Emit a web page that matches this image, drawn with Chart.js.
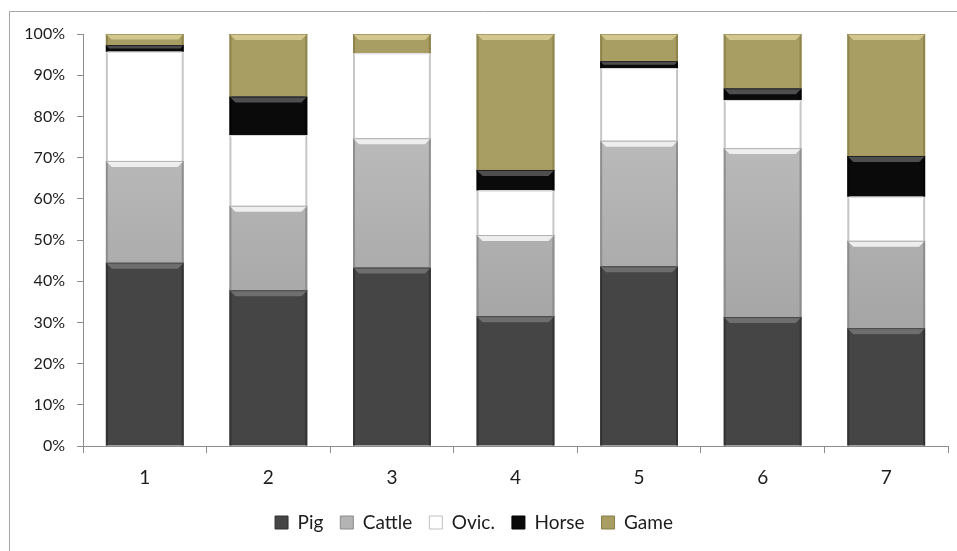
<!DOCTYPE html>
<html>
<head>
<meta charset="utf-8">
<script src="https://cdn.jsdelivr.net/npm/chart.js@4.4.1/dist/chart.umd.min.js"></script>
<style>
  html, body { margin: 0; padding: 0; background: #ffffff; }
  #wrap { width: 957px; height: 551px; position: relative; }
</style>
</head>
<body>
<div id="wrap"><canvas id="c" width="957" height="551"></canvas></div>
<script>
// Site / phase categories
const categories = ['1', '2', '3', '4', '5', '6', '7'];

// Share of each taxon (percent of identified bones)
const pig    = [44.5, 37.8, 43.3, 31.5, 43.6, 31.3, 28.6];
const cattle = [24.7, 20.5, 31.4, 19.7, 30.5, 41.0, 21.2];
const ovic   = [26.5, 17.2, 20.6, 10.8, 17.6, 11.7, 10.7];
const horse  = [1.6, 9.3, 0.0, 5.0, 1.7, 2.8, 9.9];
const game   = [2.7, 15.2, 4.7, 33.0, 6.6, 13.2, 29.6];

const seriesNames = ['Pig', 'Cattle', 'Ovic.', 'Horse', 'Game'];
const yTicks = [0, 10, 20, 30, 40, 50, 60, 70, 80, 90, 100];

// Fill colours, bevel highlight and edge shade per series
const styles = [
  { fill: '#454545', hi: '#6e6e6e', edge: '#2e2e2e', legend: '#454545', legendBorder: '#333333' },
  { fill: ['#c6c6c6', '#989898'], hi: '#eeeeee', edge: '#858585', legend: '#b4b4b4', legendBorder: '#8a8a8a' },
  { fill: '#ffffff', hi: '#ffffff', edge: '#b8b8b8', legend: '#ffffff', legendBorder: '#c0c0c0' },
  { fill: '#0a0a0a', hi: '#4e4e4e', edge: '#000000', legend: '#0a0a0a', legendBorder: '#000000' },
  { fill: '#a89d62', hi: '#d2c88e', edge: '#887e47', legend: '#a89d62', legendBorder: '#877d48' }
];

function fillFor(i) {
  const s = styles[i];
  if (!Array.isArray(s.fill)) return s.fill;
  return (ctx) => {
    const area = ctx.chart.chartArea;
    if (!area) return s.fill[0];
    const el = ctx.element;
    const top = el && isFinite(el.y) ? el.y : area.top;
    const bot = el && isFinite(el.base) ? el.base : area.bottom;
    const g = ctx.chart.ctx.createLinearGradient(0, top, 0, Math.max(bot, top + 1));
    g.addColorStop(0, s.fill[0]);
    g.addColorStop(1, s.fill[1]);
    return g;
  };
}

const seriesData = [pig, cattle, ovic, horse, game];
const fontFamily = 'Lato, "Liberation Sans", sans-serif';
const textColor = '#1c1c1c';

// Outer frame of the figure
const framePlugin = {
  id: 'frame',
  beforeDraw(chart) {
    const c = chart.ctx;
    c.save();
    c.fillStyle = '#ffffff';
    c.fillRect(0, 0, chart.width, chart.height);
    c.strokeStyle = '#a6a6a6';
    c.lineWidth = 1;
    c.beginPath();
    c.moveTo(9.5, chart.height);
    c.lineTo(9.5, 11.5);
    c.lineTo(chart.width, 11.5);
    c.stroke();
    c.restore();
  }
};

// Bevelled edges on each stacked segment
const bevelPlugin = {
  id: 'bevel',
  afterDatasetsDraw(chart) {
    const c = chart.ctx;
    chart.data.datasets.forEach((ds, di) => {
      const meta = chart.getDatasetMeta(di);
      const s = styles[di];
      meta.data.forEach((bar) => {
        const top = Math.min(bar.y, bar.base);
        const bot = Math.max(bar.y, bar.base);
        const h = bot - top;
        if (h < 0.5) return;
        const left = bar.x - bar.width / 2;
        const right = bar.x + bar.width / 2;
        const b = Math.min(6, h / 2);
        c.save();
        // side shading
        c.fillStyle = s.edge;
        c.globalAlpha = 0.8;
        c.fillRect(left, top, 2, h);
        c.fillRect(right - 2, top, 2, h);
        c.globalAlpha = 1;
        // top highlight
        c.fillStyle = s.hi;
        c.beginPath();
        c.moveTo(left, top);
        c.lineTo(right, top);
        c.lineTo(right - b, top + b);
        c.lineTo(left + b, top + b);
        c.closePath();
        c.fill();
        // thin edge line at the top of the segment
        c.strokeStyle = s.edge;
        c.globalAlpha = 0.6;
        c.lineWidth = 1;
        c.beginPath();
        c.moveTo(left, top + 0.5);
        c.lineTo(right, top + 0.5);
        c.stroke();
        c.restore();
      });
    });
  }
};

const chart = new Chart(document.getElementById('c'), {
  type: 'bar',
  data: {
    labels: categories,
    datasets: seriesNames.map((name, i) => ({
      label: name,
      data: seriesData[i],
      backgroundColor: fillFor(i),
      borderWidth: 0,
      barPercentage: 0.63,
      categoryPercentage: 1.0
    }))
  },
  options: {
    responsive: false,
    animation: false,
    devicePixelRatio: 1,
    layout: { padding: { left: 0, right: 9, top: 34, bottom: 9 } },
    plugins: {
      tooltip: { enabled: false },
      legend: {
        position: 'bottom',
        labels: {
          font: { family: fontFamily, size: 19 },
          color: textColor,
          boxWidth: 13,
          boxHeight: 13,
          padding: 17,
          generateLabels: (ch) => ch.data.datasets.map((ds, i) => ({
            text: ds.label,
            fillStyle: styles[i].legend,
            strokeStyle: styles[i].legendBorder,
            lineWidth: 1,
            hidden: false,
            datasetIndex: i,
            fontColor: textColor
          }))
        }
      }
    },
    scales: {
      x: {
        stacked: true,
        offset: true,
        grid: { offset: true, drawOnChartArea: false, drawTicks: true, tickLength: 7, color: '#8c8c8c' },
        border: { display: true, color: '#8c8c8c' },
        ticks: {
          font: { family: fontFamily, size: 19 },
          color: textColor,
          padding: 13
        },
        afterFit: (scale) => { scale.height = 50; }
      },
      y: {
        stacked: true,
        min: 0,
        max: 100,
        afterBuildTicks: (scale) => { scale.ticks = yTicks.map(v => ({ value: v })); },
        grid: { drawOnChartArea: false, drawTicks: true, tickLength: 6, color: '#8c8c8c' },
        border: { display: true, color: '#8c8c8c' },
        ticks: {
          font: { family: fontFamily, size: 16 },
          color: textColor,
          padding: 12,
          callback: (v) => v + '%'
        },
        afterFit: (scale) => { scale.width = 83; }
      }
    }
  },
  plugins: [framePlugin, bevelPlugin]
});
</script>
</body>
</html>
